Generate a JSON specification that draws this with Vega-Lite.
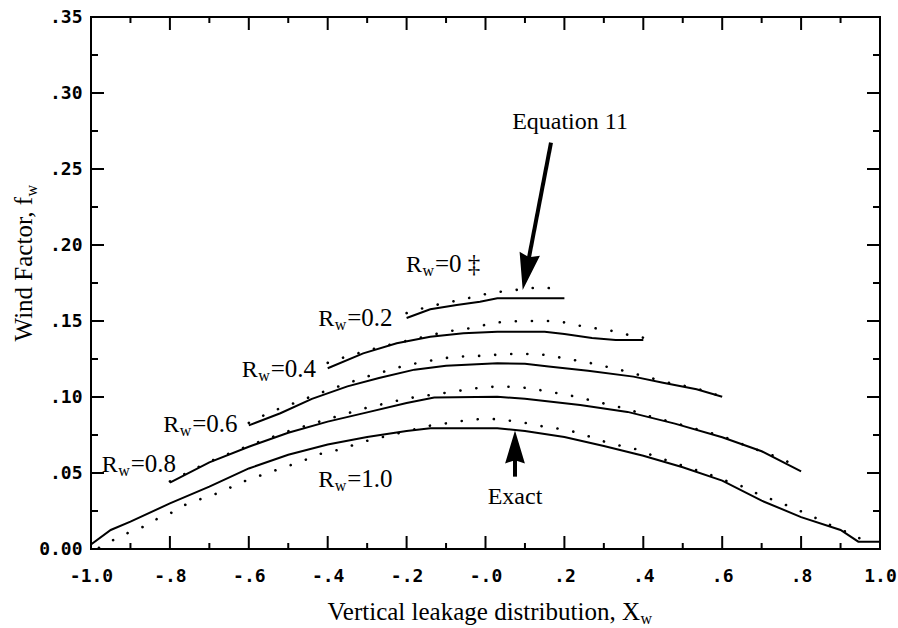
{
  "$schema": "https://vega.github.io/schema/vega-lite/v6.json",
  "width": 789,
  "height": 532,
  "autosize": {"type": "none"},
  "padding": {"left": 91, "top": 17, "right": 18, "bottom": 79},
  "background": "white",
  "config": {
    "view": {"stroke": "black", "strokeWidth": 2},
    "font": "Liberation Serif"
  },
  "datasets": {
    "exact": [
      {"R": "1.0", "x": -1.0, "y": 0.003}, {"R": "1.0", "x": -0.95, "y": 0.0125}, {"R": "1.0", "x": -0.9, "y": 0.018},
      {"R": "1.0", "x": -0.8, "y": 0.030}, {"R": "1.0", "x": -0.7, "y": 0.041}, {"R": "1.0", "x": -0.6, "y": 0.053},
      {"R": "1.0", "x": -0.5, "y": 0.062}, {"R": "1.0", "x": -0.4, "y": 0.0687}, {"R": "1.0", "x": -0.3, "y": 0.0737},
      {"R": "1.0", "x": -0.2, "y": 0.0777}, {"R": "1.0", "x": -0.14, "y": 0.0794}, {"R": "1.0", "x": 0.03, "y": 0.0794},
      {"R": "1.0", "x": 0.1, "y": 0.0776}, {"R": "1.0", "x": 0.2, "y": 0.0737}, {"R": "1.0", "x": 0.3, "y": 0.0678},
      {"R": "1.0", "x": 0.4, "y": 0.0613}, {"R": "1.0", "x": 0.5, "y": 0.0538}, {"R": "1.0", "x": 0.6, "y": 0.045},
      {"R": "1.0", "x": 0.7, "y": 0.0318}, {"R": "1.0", "x": 0.8, "y": 0.021}, {"R": "1.0", "x": 0.9, "y": 0.0125},
      {"R": "1.0", "x": 0.945, "y": 0.0048}, {"R": "1.0", "x": 1.0, "y": 0.0048},
      {"R": "0.8", "x": -0.8, "y": 0.0437}, {"R": "0.8", "x": -0.7, "y": 0.057}, {"R": "0.8", "x": -0.6, "y": 0.0673},
      {"R": "0.8", "x": -0.5, "y": 0.0765}, {"R": "0.8", "x": -0.4, "y": 0.0838}, {"R": "0.8", "x": -0.3, "y": 0.0899},
      {"R": "0.8", "x": -0.2, "y": 0.096}, {"R": "0.8", "x": -0.13, "y": 0.0996}, {"R": "0.8", "x": 0.03, "y": 0.1002},
      {"R": "0.8", "x": 0.1, "y": 0.0988}, {"R": "0.8", "x": 0.24, "y": 0.0947}, {"R": "0.8", "x": 0.36, "y": 0.0902},
      {"R": "0.8", "x": 0.48, "y": 0.0825}, {"R": "0.8", "x": 0.6, "y": 0.0735}, {"R": "0.8", "x": 0.7, "y": 0.0643},
      {"R": "0.8", "x": 0.8, "y": 0.051},
      {"R": "0.6", "x": -0.6, "y": 0.0813}, {"R": "0.6", "x": -0.52, "y": 0.0893}, {"R": "0.6", "x": -0.44, "y": 0.0988},
      {"R": "0.6", "x": -0.35, "y": 0.107}, {"R": "0.6", "x": -0.27, "y": 0.1125}, {"R": "0.6", "x": -0.18, "y": 0.118},
      {"R": "0.6", "x": -0.1, "y": 0.1206}, {"R": "0.6", "x": 0.03, "y": 0.1222}, {"R": "0.6", "x": 0.1, "y": 0.1218},
      {"R": "0.6", "x": 0.16, "y": 0.12}, {"R": "0.6", "x": 0.26, "y": 0.1172}, {"R": "0.6", "x": 0.375, "y": 0.1134},
      {"R": "0.6", "x": 0.45, "y": 0.1094}, {"R": "0.6", "x": 0.535, "y": 0.1051}, {"R": "0.6", "x": 0.6, "y": 0.1002},
      {"R": "0.4", "x": -0.4, "y": 0.1189}, {"R": "0.4", "x": -0.31, "y": 0.1287}, {"R": "0.4", "x": -0.225, "y": 0.1353},
      {"R": "0.4", "x": -0.14, "y": 0.1397}, {"R": "0.4", "x": -0.056, "y": 0.1419}, {"R": "0.4", "x": 0.03, "y": 0.143},
      {"R": "0.4", "x": 0.15, "y": 0.143}, {"R": "0.4", "x": 0.2, "y": 0.1415}, {"R": "0.4", "x": 0.27, "y": 0.1388},
      {"R": "0.4", "x": 0.33, "y": 0.1375}, {"R": "0.4", "x": 0.4, "y": 0.1375},
      {"R": "0.2", "x": -0.2, "y": 0.152}, {"R": "0.2", "x": -0.14, "y": 0.1577}, {"R": "0.2", "x": -0.073, "y": 0.1605},
      {"R": "0.2", "x": -0.014, "y": 0.1627}, {"R": "0.2", "x": 0.03, "y": 0.165}, {"R": "0.2", "x": 0.2, "y": 0.165}
    ],
    "eq11": [
      {"R": "1.0", "x": -0.98, "y": 0.0008}, {"R": "1.0", "x": -0.94, "y": 0.0064}, {"R": "1.0", "x": -0.9, "y": 0.0114},
      {"R": "1.0", "x": -0.867, "y": 0.0147}, {"R": "1.0", "x": -0.833, "y": 0.0197}, {"R": "1.0", "x": -0.795, "y": 0.024},
      {"R": "1.0", "x": -0.762, "y": 0.029}, {"R": "1.0", "x": -0.724, "y": 0.0327}, {"R": "1.0", "x": -0.68, "y": 0.0366},
      {"R": "1.0", "x": -0.61, "y": 0.0447}, {"R": "1.0", "x": -0.567, "y": 0.0487}, {"R": "1.0", "x": -0.496, "y": 0.055},
      {"R": "1.0", "x": -0.453, "y": 0.059}, {"R": "1.0", "x": -0.42, "y": 0.0625}, {"R": "1.0", "x": -0.377, "y": 0.065},
      {"R": "1.0", "x": -0.3, "y": 0.0712}, {"R": "1.0", "x": -0.2, "y": 0.0775}, {"R": "1.0", "x": -0.14, "y": 0.0812},
      {"R": "1.0", "x": -0.098, "y": 0.0827}, {"R": "1.0", "x": -0.056, "y": 0.0844}, {"R": "1.0", "x": -0.014, "y": 0.0855},
      {"R": "1.0", "x": 0.02, "y": 0.0855}, {"R": "1.0", "x": 0.062, "y": 0.0844}, {"R": "1.0", "x": 0.1, "y": 0.083},
      {"R": "1.0", "x": 0.142, "y": 0.0808}, {"R": "1.0", "x": 0.18, "y": 0.0794}, {"R": "1.0", "x": 0.223, "y": 0.0772},
      {"R": "1.0", "x": 0.26, "y": 0.0743}, {"R": "1.0", "x": 0.303, "y": 0.0705}, {"R": "1.0", "x": 0.341, "y": 0.068},
      {"R": "1.0", "x": 0.383, "y": 0.0656}, {"R": "1.0", "x": 0.421, "y": 0.0618}, {"R": "1.0", "x": 0.463, "y": 0.058},
      {"R": "1.0", "x": 0.5, "y": 0.0548}, {"R": "1.0", "x": 0.539, "y": 0.0515}, {"R": "1.0", "x": 0.577, "y": 0.0482},
      {"R": "1.0", "x": 0.615, "y": 0.0443}, {"R": "1.0", "x": 0.653, "y": 0.041}, {"R": "1.0", "x": 0.692, "y": 0.036},
      {"R": "1.0", "x": 0.73, "y": 0.0322}, {"R": "1.0", "x": 0.768, "y": 0.0283}, {"R": "1.0", "x": 0.806, "y": 0.0241},
      {"R": "1.0", "x": 0.844, "y": 0.0195}, {"R": "1.0", "x": 0.882, "y": 0.0147}, {"R": "1.0", "x": 0.92, "y": 0.0107},
      {"R": "1.0", "x": 0.956, "y": 0.006},
      {"R": "0.8", "x": -0.8, "y": 0.0445}, {"R": "0.8", "x": -0.7, "y": 0.0575}, {"R": "0.8", "x": -0.6, "y": 0.068},
      {"R": "0.8", "x": -0.5, "y": 0.0775}, {"R": "0.8", "x": -0.4, "y": 0.0855}, {"R": "0.8", "x": -0.3, "y": 0.093},
      {"R": "0.8", "x": -0.2, "y": 0.099}, {"R": "0.8", "x": -0.1, "y": 0.1028}, {"R": "0.8", "x": -0.044, "y": 0.105},
      {"R": "0.8", "x": 0.0, "y": 0.1066}, {"R": "0.8", "x": 0.04, "y": 0.1068}, {"R": "0.8", "x": 0.075, "y": 0.1066},
      {"R": "0.8", "x": 0.12, "y": 0.1056}, {"R": "0.8", "x": 0.16, "y": 0.1033}, {"R": "0.8", "x": 0.2, "y": 0.1019},
      {"R": "0.8", "x": 0.24, "y": 0.0995}, {"R": "0.8", "x": 0.28, "y": 0.097}, {"R": "0.8", "x": 0.32, "y": 0.0945},
      {"R": "0.8", "x": 0.36, "y": 0.0921}, {"R": "0.8", "x": 0.4, "y": 0.0885}, {"R": "0.8", "x": 0.5, "y": 0.0815},
      {"R": "0.8", "x": 0.6, "y": 0.0742}, {"R": "0.8", "x": 0.675, "y": 0.0665}, {"R": "0.8", "x": 0.713, "y": 0.063},
      {"R": "0.8", "x": 0.75, "y": 0.0595}, {"R": "0.8", "x": 0.8, "y": 0.053},
      {"R": "0.6", "x": -0.6, "y": 0.083}, {"R": "0.6", "x": -0.542, "y": 0.0905}, {"R": "0.6", "x": -0.5, "y": 0.0945},
      {"R": "0.6", "x": -0.4, "y": 0.1045}, {"R": "0.6", "x": -0.3, "y": 0.1135}, {"R": "0.6", "x": -0.2, "y": 0.121},
      {"R": "0.6", "x": -0.107, "y": 0.1255}, {"R": "0.6", "x": -0.05, "y": 0.1268}, {"R": "0.6", "x": 0.007, "y": 0.1272},
      {"R": "0.6", "x": 0.045, "y": 0.1283}, {"R": "0.6", "x": 0.087, "y": 0.1283}, {"R": "0.6", "x": 0.131, "y": 0.1283},
      {"R": "0.6", "x": 0.17, "y": 0.127}, {"R": "0.6", "x": 0.21, "y": 0.1248}, {"R": "0.6", "x": 0.252, "y": 0.1232},
      {"R": "0.6", "x": 0.295, "y": 0.1206}, {"R": "0.6", "x": 0.334, "y": 0.1184}, {"R": "0.6", "x": 0.373, "y": 0.1156},
      {"R": "0.6", "x": 0.413, "y": 0.113}, {"R": "0.6", "x": 0.453, "y": 0.11}, {"R": "0.6", "x": 0.493, "y": 0.1079},
      {"R": "0.6", "x": 0.535, "y": 0.1057}, {"R": "0.6", "x": 0.577, "y": 0.102}, {"R": "0.6", "x": 0.6, "y": 0.1005},
      {"R": "0.4", "x": -0.4, "y": 0.1225}, {"R": "0.4", "x": -0.348, "y": 0.127}, {"R": "0.4", "x": -0.263, "y": 0.1331},
      {"R": "0.4", "x": -0.183, "y": 0.138}, {"R": "0.4", "x": -0.1, "y": 0.143}, {"R": "0.4", "x": -0.06, "y": 0.1445},
      {"R": "0.4", "x": -0.022, "y": 0.1458}, {"R": "0.4", "x": 0.011, "y": 0.1485}, {"R": "0.4", "x": 0.054, "y": 0.1496},
      {"R": "0.4", "x": 0.094, "y": 0.15}, {"R": "0.4", "x": 0.176, "y": 0.15}, {"R": "0.4", "x": 0.214, "y": 0.1485},
      {"R": "0.4", "x": 0.256, "y": 0.1458}, {"R": "0.4", "x": 0.297, "y": 0.1447}, {"R": "0.4", "x": 0.337, "y": 0.1426},
      {"R": "0.4", "x": 0.379, "y": 0.1397}, {"R": "0.4", "x": 0.4, "y": 0.139},
      {"R": "0.2", "x": -0.2, "y": 0.1552}, {"R": "0.2", "x": -0.183, "y": 0.1566}, {"R": "0.2", "x": -0.145, "y": 0.1594},
      {"R": "0.2", "x": -0.107, "y": 0.1616}, {"R": "0.2", "x": -0.065, "y": 0.1638}, {"R": "0.2", "x": -0.027, "y": 0.166},
      {"R": "0.2", "x": 0.011, "y": 0.1684}, {"R": "0.2", "x": 0.054, "y": 0.1697}, {"R": "0.2", "x": 0.096, "y": 0.171},
      {"R": "0.2", "x": 0.138, "y": 0.1722}, {"R": "0.2", "x": 0.18, "y": 0.1712}, {"R": "0.2", "x": 0.2, "y": 0.1705}
    ],
    "labels": [
      {"t": "=0 ‡", "x": -0.2015, "y": 0.1825},
      {"t": "=0.2", "x": -0.424, "y": 0.1467},
      {"t": "=0.4", "x": -0.618, "y": 0.1134},
      {"t": "=0.6", "x": -0.817, "y": 0.0772},
      {"t": "=0.8", "x": -0.973, "y": 0.0509},
      {"t": "=1.0", "x": -0.424, "y": 0.041}
    ],
    "notes": [
      {"t": "Equation 11", "x": 0.2142, "y": 0.2761},
      {"t": "Exact", "x": 0.0748, "y": 0.0296}
    ],
    "xticks": [
      {"v": -1}, {"v": -0.9}, {"v": -0.8}, {"v": -0.7}, {"v": -0.6}, {"v": -0.5}, {"v": -0.4}, {"v": -0.3}, {"v": -0.2}, {"v": -0.1},
      {"v": 0}, {"v": 0.1}, {"v": 0.2}, {"v": 0.3}, {"v": 0.4}, {"v": 0.5}, {"v": 0.6}, {"v": 0.7}, {"v": 0.8}, {"v": 0.9}, {"v": 1}
    ],
    "yticks": [
      {"v": 0}, {"v": 0.025}, {"v": 0.05}, {"v": 0.075}, {"v": 0.1}, {"v": 0.125}, {"v": 0.15}, {"v": 0.175},
      {"v": 0.2}, {"v": 0.225}, {"v": 0.25}, {"v": 0.275}, {"v": 0.3}, {"v": 0.325}, {"v": 0.35}
    ]
  },
  "layer": [
    {
      "data": {"name": "exact"},
      "mark": {"type": "line", "color": "black", "strokeWidth": 2, "clip": true},
      "encoding": {
        "x": {
          "field": "x", "type": "quantitative",
          "scale": {"domain": [-1, 1], "nice": false, "zero": false},
          "axis": {
            "orient": "bottom", "title": null, "domain": false, "grid": false, "ticks": false,
            "values": [-1, -0.8, -0.6, -0.4, -0.2, 0, 0.2, 0.4, 0.6, 0.8, 1],
            "labelExpr": "abs(datum.value)>0.999 ? (datum.value<0 ? '-1.0' : '1.0') : (datum.value<0.001 ? '-' : '') + '.' + round(abs(datum.value)*10)",
            "labelFont": "DejaVu Sans Mono", "labelFontWeight": "bold", "labelFontSize": 18, "labelColor": "black",
            "labelPadding": 18, "labelFlush": false, "labelOverlap": false, "labelBound": false
          }
        },
        "y": {
          "field": "y", "type": "quantitative",
          "scale": {"domain": [0, 0.35], "nice": false, "zero": false},
          "axis": {
            "orient": "left", "title": null, "domain": false, "grid": false, "ticks": false,
            "values": [0, 0.05, 0.1, 0.15, 0.2, 0.25, 0.3, 0.35],
            "labelExpr": "datum.value<0.001 ? '0.00' : '.' + (round(datum.value*100)<10 ? '0' : '') + round(datum.value*100)",
            "labelFont": "DejaVu Sans Mono", "labelFontWeight": "bold", "labelFontSize": 18, "labelColor": "black",
            "labelPadding": 9, "labelFlush": false, "labelOverlap": false, "labelBound": false
          }
        },
        "detail": {"field": "R", "type": "nominal"}
      }
    },
    {
      "data": {"name": "eq11"},
      "mark": {"type": "line", "color": "black", "strokeWidth": 2.6, "strokeCap": "round", "strokeDash": [0.1, 16], "clip": true},
      "encoding": {
        "x": {"field": "x", "type": "quantitative", "axis": null},
        "y": {"field": "y", "type": "quantitative", "axis": null},
        "detail": {"field": "R", "type": "nominal"}
      }
    },
    {
      "data": {"name": "xticks"},
      "mark": {"type": "tick", "orient": "vertical", "color": "black", "thickness": 2, "opacity": 1, "clip": true},
      "encoding": {
        "x": {"field": "v", "type": "quantitative", "axis": null},
        "y": {"datum": 0, "type": "quantitative", "axis": null},
        "size": {"condition": {"test": "abs(datum.v*5-round(datum.v*5))<0.001", "value": 26}, "value": 12}
      }
    },
    {
      "data": {"name": "xticks"},
      "mark": {"type": "tick", "orient": "vertical", "color": "black", "thickness": 2, "opacity": 1, "clip": true},
      "encoding": {
        "x": {"field": "v", "type": "quantitative", "axis": null},
        "y": {"datum": 0.35, "type": "quantitative", "axis": null},
        "size": {"condition": {"test": "abs(datum.v*5-round(datum.v*5))<0.001", "value": 26}, "value": 12}
      }
    },
    {
      "data": {"name": "yticks"},
      "mark": {"type": "tick", "orient": "horizontal", "color": "black", "thickness": 2, "opacity": 1, "clip": true},
      "encoding": {
        "y": {"field": "v", "type": "quantitative", "axis": null},
        "x": {"datum": -1, "type": "quantitative", "axis": null},
        "size": {"condition": {"test": "abs(datum.v*20-round(datum.v*20))<0.001", "value": 26}, "value": 14}
      }
    },
    {
      "data": {"name": "yticks"},
      "mark": {"type": "tick", "orient": "horizontal", "color": "black", "thickness": 2, "opacity": 1, "clip": true},
      "encoding": {
        "y": {"field": "v", "type": "quantitative", "axis": null},
        "x": {"datum": 1, "type": "quantitative", "axis": null},
        "size": {"condition": {"test": "abs(datum.v*20-round(datum.v*20))<0.001", "value": 26}, "value": 14}
      }
    },
    {
      "data": {"name": "labels"},
      "mark": {"type": "text", "text": "R", "align": "left", "baseline": "alphabetic", "font": "Liberation Serif", "fontSize": 24, "color": "black"},
      "encoding": {
        "x": {"field": "x", "type": "quantitative", "axis": null},
        "y": {"field": "y", "type": "quantitative", "axis": null}
      }
    },
    {
      "data": {"name": "labels"},
      "mark": {"type": "text", "text": "w", "align": "left", "baseline": "alphabetic", "font": "Liberation Serif", "fontSize": 16, "dx": 16.5, "dy": 4, "color": "black"},
      "encoding": {
        "x": {"field": "x", "type": "quantitative", "axis": null},
        "y": {"field": "y", "type": "quantitative", "axis": null}
      }
    },
    {
      "data": {"name": "labels"},
      "mark": {"type": "text", "align": "left", "baseline": "alphabetic", "font": "Liberation Serif", "fontSize": 25, "dx": 29, "color": "black"},
      "encoding": {
        "x": {"field": "x", "type": "quantitative", "axis": null},
        "y": {"field": "y", "type": "quantitative", "axis": null},
        "text": {"field": "t"}
      }
    },
    {
      "data": {"name": "notes"},
      "mark": {"type": "text", "align": "center", "baseline": "alphabetic", "font": "Liberation Serif", "fontSize": 24, "color": "black"},
      "encoding": {
        "x": {"field": "x", "type": "quantitative", "axis": null},
        "y": {"field": "y", "type": "quantitative", "axis": null},
        "text": {"field": "t"}
      }
    },
    {
      "data": {"values": [{"x": 0.166, "y": 0.2673, "x2": 0.104, "y2": 0.1833}, {"x": 0.0748, "y": 0.0476, "x2": 0.0748, "y2": 0.068}]},
      "mark": {"type": "rule", "color": "black", "strokeWidth": 4},
      "encoding": {
        "x": {"field": "x", "type": "quantitative", "axis": null},
        "y": {"field": "y", "type": "quantitative", "axis": null},
        "x2": {"field": "x2"},
        "y2": {"field": "y2"}
      }
    },
    {
      "data": {"values": [{"x": 0.0943, "y": 0.1704}]},
      "mark": {"type": "point", "shape": "M0,0L0.28,1L0,0.9L-0.28,1Z", "angle": 191, "size": 5476, "filled": true, "color": "black", "opacity": 1},
      "encoding": {
        "x": {"field": "x", "type": "quantitative", "axis": null},
        "y": {"field": "y", "type": "quantitative", "axis": null}
      }
    },
    {
      "data": {"values": [{"x": 0.0748, "y": 0.078}]},
      "mark": {"type": "point", "shape": "M0,0L0.3,1L0,0.9L-0.3,1Z", "angle": 0, "size": 4356, "filled": true, "color": "black", "opacity": 1},
      "encoding": {
        "x": {"field": "x", "type": "quantitative", "axis": null},
        "y": {"field": "y", "type": "quantitative", "axis": null}
      }
    },
    {
      "data": {"values": [{"t": "Vertical leakage distribution, X", "x": 0.3916, "y": -0.0465}]},
      "mark": {"type": "text", "align": "right", "baseline": "alphabetic", "font": "Liberation Serif", "fontSize": 25, "color": "black"},
      "encoding": {
        "x": {"field": "x", "type": "quantitative", "axis": null},
        "y": {"field": "y", "type": "quantitative", "axis": null},
        "text": {"field": "t"}
      }
    },
    {
      "data": {"values": [{"x": 0.3916, "y": -0.0465}]},
      "mark": {"type": "text", "text": "w", "align": "left", "baseline": "alphabetic", "font": "Liberation Serif", "fontSize": 16, "dx": 0.5, "dy": 4, "color": "black"},
      "encoding": {
        "x": {"field": "x", "type": "quantitative", "axis": null},
        "y": {"field": "y", "type": "quantitative", "axis": null}
      }
    },
    {
      "data": {"values": [{"t": "Wind Factor, f", "x": -1.150, "y": 0.2316}]},
      "mark": {"type": "text", "align": "right", "baseline": "alphabetic", "angle": 270, "font": "Liberation Serif", "fontSize": 25, "color": "black"},
      "encoding": {
        "x": {"field": "x", "type": "quantitative", "axis": null},
        "y": {"field": "y", "type": "quantitative", "axis": null},
        "text": {"field": "t"}
      }
    },
    {
      "data": {"values": [{"x": -1.150, "y": 0.2316}]},
      "mark": {"type": "text", "text": "w", "align": "left", "baseline": "alphabetic", "angle": 270, "font": "Liberation Serif", "fontSize": 16, "dx": 0.5, "dy": 5, "color": "black"},
      "encoding": {
        "x": {"field": "x", "type": "quantitative", "axis": null},
        "y": {"field": "y", "type": "quantitative", "axis": null}
      }
    }
  ],
  "resolve": {"axis": {"x": "independent", "y": "independent"}}
}
